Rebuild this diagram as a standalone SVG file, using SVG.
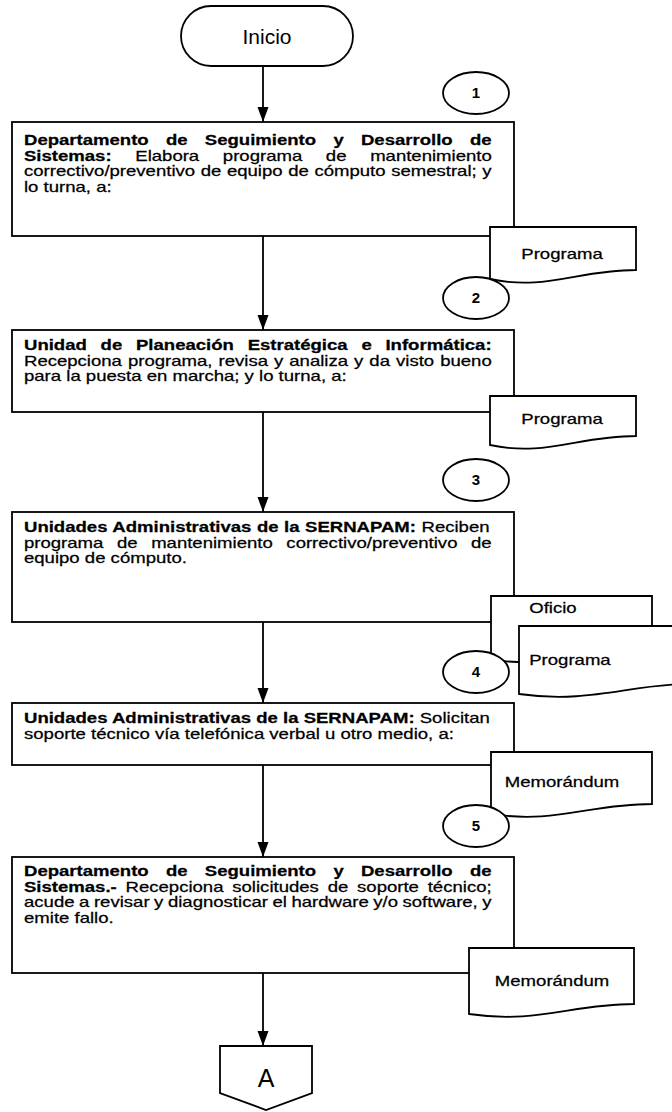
<svg xmlns="http://www.w3.org/2000/svg" width="672" height="1112" viewBox="0 0 672 1112">
<style>
.sh{fill:#fff;stroke:#000;stroke-width:1.8}
.t{font-family:"Liberation Sans",Arial,sans-serif;font-size:14.5px;fill:#000;stroke:#000;stroke-width:0.25}
.b{font-weight:bold}
.lbl{font-family:"Liberation Sans",Arial,sans-serif;font-size:15px;font-weight:bold;fill:#000;text-anchor:middle}
.dt{font-family:"Liberation Sans",Arial,sans-serif;font-size:14.5px;fill:#000;stroke:#000;stroke-width:0.25;text-anchor:middle}
.conn{stroke:#000;stroke-width:1.8;fill:none;marker-end:url(#ah)}
</style>
<defs>
<marker id="ah" markerUnits="userSpaceOnUse" markerWidth="16" markerHeight="12" refX="15" refY="6" orient="auto">
<path d="M0,0.5 L15,6 L0,11.5 Z" fill="#000"/>
</marker>
</defs>
<rect width="672" height="1112" fill="#fff"/>

<g id="connectors">
<line class="conn" x1="263" y1="66" x2="263" y2="122"/>
<line class="conn" x1="263" y1="236" x2="263" y2="330"/>
<line class="conn" x1="263" y1="412" x2="263" y2="512"/>
<line class="conn" x1="263" y1="622" x2="263" y2="703"/>
<line class="conn" x1="263" y1="765" x2="263" y2="857"/>
<line class="conn" x1="263" y1="973" x2="263" y2="1046"/>
</g>

<g id="inicio">
<rect class="sh" x="181" y="6" width="172" height="60" rx="30" ry="30"/>
<text x="267" y="44" font-family="Liberation Sans, Arial, sans-serif" font-size="21" text-anchor="middle">Inicio</text>
</g>

<g id="step1">
<ellipse class="sh" cx="476" cy="93" rx="33" ry="21"/>
<text class="lbl" x="476" y="98">1</text>
<rect class="sh" x="12" y="122" width="502" height="114"/>
<text class="t" transform="scale(1.28,1)" x="18.75" y="145" word-spacing="9.46"><tspan class="b">Departamento de Seguimiento y Desarrollo de</tspan></text>
<text class="t" transform="scale(1.28,1)" x="18.75" y="161" word-spacing="14.45"><tspan class="b">Sistemas:</tspan> Elabora programa de mantenimiento</text>
<text class="t" transform="scale(1.28,1)" x="18.75" y="176" word-spacing="0.35">correctivo/preventivo de equipo de cómputo semestral; y</text>
<text class="t" transform="scale(1.28,1)" x="18.75" y="192">lo turna, a:</text>
</g>

<g id="doc1">
<path class="sh" d="M490,227 H636 V270 C578,270 545,291 490,279 Z"/>
<text class="dt" transform="scale(1.28,1)" x="439.1" y="259">Programa</text>
</g>

<g id="step2">
<ellipse class="sh" cx="476" cy="298" rx="33" ry="21"/>
<text class="lbl" x="476" y="303">2</text>
<rect class="sh" x="12" y="330" width="502" height="82"/>
<text class="t" transform="scale(1.28,1)" x="18.75" y="350" word-spacing="6.72"><tspan class="b">Unidad de Planeación Estratégica e Informática:</tspan></text>
<text class="t" transform="scale(1.28,1)" x="18.75" y="366" word-spacing="0.68">Recepciona programa, revisa y analiza y da visto bueno</text>
<text class="t" transform="scale(1.28,1)" x="18.75" y="381">para la puesta en marcha; y lo turna, a:</text>
</g>

<g id="doc2">
<path class="sh" d="M490,396 H636 V436 C578,436 545,457 490,445 Z"/>
<text class="dt" transform="scale(1.28,1)" x="439.1" y="424">Programa</text>
</g>

<g id="step3">
<ellipse class="sh" cx="476" cy="480" rx="33" ry="21"/>
<text class="lbl" x="476" y="485">3</text>
<rect class="sh" x="12" y="512" width="502" height="110"/>
<text class="t" transform="scale(1.28,1)" x="18.75" y="532" word-spacing="0.28"><tspan class="b">Unidades Administrativas de la SERNAPAM:</tspan> Reciben</text>
<text class="t" transform="scale(1.28,1)" x="18.75" y="548" word-spacing="6.58">programa de mantenimiento correctivo/preventivo de</text>
<text class="t" transform="scale(1.28,1)" x="18.75" y="563">equipo de cómputo.</text>
</g>

<g id="doc3-oficio">
<path class="sh" d="M491,596 H652 V650 C600,650 560,668 491,660 Z"/>
<text class="dt" transform="scale(1.28,1)" x="432" y="613">Oficio</text>
</g>

<g id="doc3-programa">
<path class="sh" d="M519,626 H690 V684 C630,684 590,704 519,694 Z"/>
<text class="dt" transform="scale(1.28,1)" x="445.3" y="665">Programa</text>
</g>

<g id="step4">
<ellipse class="sh" cx="476" cy="672" rx="33" ry="21"/>
<text class="lbl" x="476" y="677">4</text>
<rect class="sh" x="12" y="703" width="502" height="62"/>
<text class="t" transform="scale(1.28,1)" x="18.75" y="723"><tspan class="b">Unidades Administrativas de la SERNAPAM:</tspan> Solicitan</text>
<text class="t" transform="scale(1.28,1)" x="18.75" y="739">soporte técnico vía telefónica verbal u otro medio, a:</text>
</g>

<g id="doc4">
<path class="sh" d="M491,752 H652 V804 C590,804 555,824 491,814 Z"/>
<text class="dt" transform="scale(1.28,1)" x="439.1" y="787">Memorándum</text>
</g>

<g id="step5">
<ellipse class="sh" cx="476" cy="826" rx="33" ry="21"/>
<text class="lbl" x="476" y="831">5</text>
<rect class="sh" x="12" y="857" width="502" height="116"/>
<text class="t" transform="scale(1.28,1)" x="18.75" y="876" word-spacing="9.46"><tspan class="b">Departamento de Seguimiento y Desarrollo de</tspan></text>
<text class="t" transform="scale(1.28,1)" x="18.75" y="892" word-spacing="2.84"><tspan class="b">Sistemas.-</tspan> Recepciona solicitudes de soporte técnico;</text>
<text class="t" transform="scale(1.28,1)" x="18.75" y="907" word-spacing="-0.48">acude a revisar y diagnosticar el hardware y/o software, y</text>
<text class="t" transform="scale(1.28,1)" x="18.75" y="923">emite fallo.</text>
</g>

<g id="doc5">
<path class="sh" d="M469,948 H634 V1004 C572,1004 537,1024 469,1014 Z"/>
<text class="dt" transform="scale(1.28,1)" x="431.3" y="986">Memorándum</text>
</g>

<g id="connectorA">
<path class="sh" d="M220,1046 H312 V1093 L266,1110 L220,1093 Z"/>
<text x="266" y="1087" font-family="Liberation Sans, Arial, sans-serif" font-size="25" text-anchor="middle">A</text>
</g>
</svg>
